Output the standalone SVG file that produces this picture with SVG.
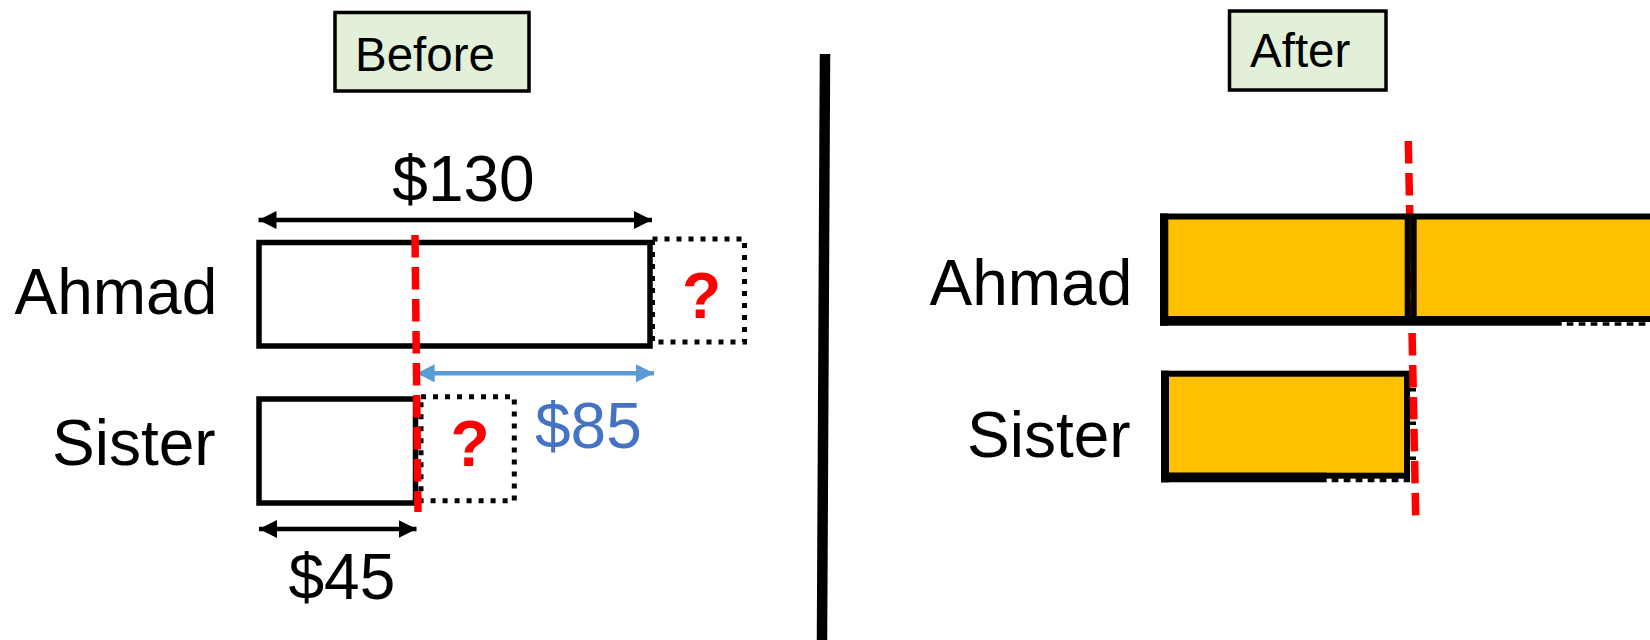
<svg xmlns="http://www.w3.org/2000/svg" width="1650" height="640" viewBox="0 0 1650 640">
  <style>
    .lbl { font-family: "Liberation Sans", Arial, sans-serif; font-size: 64px; fill: #000; }
    .tag { font-family: "Liberation Sans", Arial, sans-serif; font-size: 47.5px; fill: #000; }
    .q { font-family: "Liberation Sans", Arial, sans-serif; font-size: 64px; font-weight: bold; fill: #FF0000; text-anchor: middle; }
    .tagbox { fill: #E2F0D9; stroke: #000; stroke-width: 3.5; }
    .bar { fill: #FFFFFF; stroke: #000; stroke-width: 5.5; }
    .gold { fill: #FFC000; stroke: #000; stroke-width: 6; }
    .dots { fill: none; stroke: #000; stroke-width: 5; stroke-dasharray: 5 7; }
    .cut { fill: none; stroke: #FF0000; stroke-width: 7.5; stroke-dasharray: 22.5 9.5; }
    .dim { fill: none; stroke: #000; stroke-width: 4.5; }
    .dim-blue { fill: none; stroke: #5B9BD5; stroke-width: 4.5; }
  </style>
  <defs>
    <marker id="head-black" viewBox="0 0 18 18" refX="18" refY="9" markerWidth="18" markerHeight="18" markerUnits="userSpaceOnUse" orient="auto-start-reverse">
      <path d="M0,0 L18,9 L0,18 Z" fill="#000"/>
    </marker>
    <marker id="head-blue" viewBox="0 0 18 18" refX="18" refY="9" markerWidth="18" markerHeight="18" markerUnits="userSpaceOnUse" orient="auto-start-reverse">
      <path d="M0,0 L18,9 L0,18 Z" fill="#5B9BD5"/>
    </marker>
  </defs>

  <!-- panel titles -->
  <g id="before-label">
    <rect class="tagbox" x="335" y="12.5" width="194" height="78.5"/>
    <text class="tag" x="355" y="70.5">Before</text>
  </g>
  <g id="after-label">
    <rect class="tagbox" x="1229.5" y="11" width="156.5" height="79"/>
    <text class="tag" x="1250" y="66.7">After</text>
  </g>

  <!-- row names -->
  <g id="ahmad-name-before"><text class="lbl" x="14.5" y="313.5">Ahmad</text></g>
  <g id="sister-name-before"><text class="lbl" x="52" y="465">Sister</text></g>
  <g id="ahmad-name-after"><text class="lbl" x="929.5" y="305">Ahmad</text></g>
  <g id="sister-name-after"><text class="lbl" x="967" y="456.7">Sister</text></g>

  <!-- before: bars and unknown parts -->
  <g id="ahmad-bar-before">
    <rect class="bar" x="259" y="242.5" width="391" height="103.5"/>
  </g>
  <g id="ahmad-unknown-before">
    <rect class="dots" x="652.5" y="239" width="92" height="103"/>
    <text class="q" x="701.5" y="318">?</text>
  </g>
  <g id="sister-bar-before">
    <rect class="bar" x="259" y="399" width="156.5" height="104"/>
  </g>
  <g id="sister-unknown-before">
    <rect class="dots" x="421" y="396.7" width="93.3" height="104"/>
    <text class="q" x="470" y="466">?</text>
  </g>

  <!-- after: filled bars -->
  <g id="sister-bar-after">
    <rect class="gold" x="1164" y="373.7" width="243" height="102"/>
    <rect x="1161" y="370.7" width="8" height="111.6" fill="#000"/>
    <rect x="1161" y="472.7" width="165.7" height="9.6" fill="#000"/>
    <line x1="1331.7" y1="480.3" x2="1410" y2="480.3" stroke="#000" stroke-width="4" stroke-dasharray="6.7 5.3"/>
    <rect x="1410" y="388" width="6" height="3.5" fill="#000"/>
    <rect x="1410" y="421.5" width="6" height="3.5" fill="#000"/>
    <rect x="1410" y="456.5" width="6" height="3.5" fill="#000"/>
  </g>

  <!-- dimension connectors and dividers -->
  <g id="connectors">
    <line x1="825" y1="54" x2="822" y2="640" stroke="#000" stroke-width="10.5"/>
    <line class="dim" x1="258.5" y1="220" x2="652" y2="220" marker-start="url(#head-black)" marker-end="url(#head-black)"/>
    <line class="dim" x1="259" y1="529" x2="416.5" y2="529" marker-start="url(#head-black)" marker-end="url(#head-black)"/>
    <line class="dim-blue" x1="416.7" y1="373.3" x2="654" y2="373.3" marker-start="url(#head-blue)" marker-end="url(#head-blue)"/>
    <line class="cut" x1="415" y1="235" x2="418" y2="512"/>
    <line class="cut" x1="1408.3" y1="141" x2="1415.7" y2="516.7"/>
  </g>

  <g id="ahmad-bar-after">
    <rect class="gold" x="1163" y="216.5" width="244.7" height="102.5"/>
    <rect class="gold" x="1413.7" y="216.5" width="300" height="102.5"/>
    <rect x="1160" y="213.5" width="8.3" height="112.2" fill="#000"/>
    <rect x="1160" y="316" width="401.7" height="9.7" fill="#000"/>
    <line x1="1566.7" y1="324" x2="1650" y2="324" stroke="#000" stroke-width="3.6" stroke-dasharray="6.7 5.3"/>
    <line x1="1410.8" y1="219" x2="1411.2" y2="316" stroke="#3A0000" stroke-width="1.2"/>
  </g>

  <!-- amounts -->
  <g id="amount-130"><text class="lbl" x="463.5" y="201" text-anchor="middle">$130</text></g>
  <g id="amount-85"><text class="lbl" x="535" y="448" style="fill:#4472C4">$85</text></g>
  <g id="amount-45"><text class="lbl" x="288.5" y="599">$45</text></g>
</svg>
